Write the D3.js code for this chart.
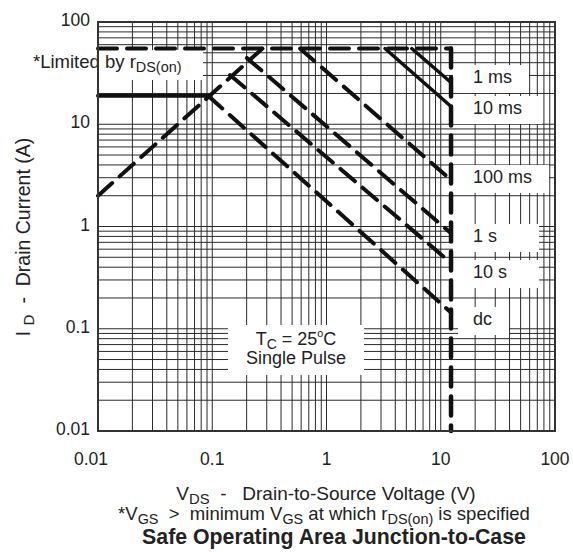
<!DOCTYPE html>
<html>
<head>
<meta charset="utf-8">
<script src="https://cdn.jsdelivr.net/npm/d3@7"></script>
<style>
  body { margin: 0; background: #fff; }
  svg { display: block; }
  text { font-family: "Liberation Sans", Arial, Helvetica, sans-serif; fill: #222; white-space: pre; }
</style>
</head>
<body>
<div id="chart"></div>
<script>
// ── data ──
const xTickValues = [0.01, 0.1, 1, 10, 100];
const xTickLabels = ['0.01', '0.1', '1', '10', '100'];
const yTickValues = [0.01, 0.1, 1, 10, 100];
const yTickLabels = ['0.01', '0.1', '1', '10', '100'];

const currentLimit = 55;     // A, top dashed limit
const packageLimit = 19;     // A, solid limit at low voltage
const voltageLimit = 12.3;   // V, vertical dashed limit
const rdsV = [0.01, 0.275];  // r_DS(on) limit line
const rdsI = [2.0, 55];

const pulseLabels = ['1 ms', '10 ms', '100 ms', '1 s', '10 s', 'dc'];
const pulseStartV = [5.57, 3.25, 0.586, 0.201, 0.143, 0.092];
const pulseStartI = [55, 55, 55, 44.5, 30.3, 19];
const pulseEndI   = [25.6, 14.9, 2.85, 0.86, 0.44, 0.144];
const labelI      = [25.3, 12.6, 2.66, 0.705, 0.313, 0.109];

// ── layout ──
const W = 573, H = 552;
const plot = { left: 98, right: 555, top: 22, bottom: 431 };
const DASH = '19,10';
const solidPulse = { '1 ms': true, '10 ms': true };
const boxPad = { '1 s': 42, '10 s': 32, '10 ms': 20 };

const svg = d3.select('#chart').append('svg')
  .attr('width', W).attr('height', H)
  .attr('viewBox', `0 0 ${W} ${H}`);

const x = d3.scaleLog([0.01, 100], [plot.left, plot.right]);
const y = d3.scaleLog([0.01, 100], [plot.bottom, plot.top]);

// rich text helper: parts = [[text, 'sub' | 'sup' | null], ...]
function rich(sel, parts, size) {
  let shift = 0;
  parts.forEach(([t, k]) => {
    const target = k === 'sub' ? 4 : k === 'sup' ? -8 : 0;
    const ts = sel.append('tspan').text(t).attr('dy', target - shift);
    if (k) ts.attr('font-size', k === 'sup' ? size * 0.6 : size * 0.78);
    shift = target;
  });
  return sel;
}

// ── grid ──
const grid = svg.append('g').attr('stroke', '#2a2a2a').attr('stroke-width', 1);
grid.selectAll('line.v').data(x.ticks()).join('line')
  .attr('x1', d => x(d)).attr('x2', d => x(d))
  .attr('y1', plot.top).attr('y2', plot.bottom);
grid.selectAll('line.h').data(y.ticks()).join('line')
  .attr('x1', plot.left).attr('x2', plot.right)
  .attr('y1', d => y(d)).attr('y2', d => y(d));

// ── white label boxes (drawn over the grid) ──
const boxes = svg.append('g').attr('fill', '#fff');
const labels = svg.append('g').attr('font-size', 18);

pulseLabels.forEach((lab, i) => {
  const t = labels.append('text')
    .attr('x', 473).attr('y', y(labelI[i]))
    .text(lab);
  const bb = t.node().getBBox();
  const by = y(labelI[i]);
  const left = lab === 'dc' ? 458 : 453;
  boxes.append('rect')
    .attr('x', left).attr('y', by - 18)
    .attr('width', bb.x + bb.width + (boxPad[lab] || 17) - left)
    .attr('height', 28);
});

// *Limited by r_DS(on)
boxes.append('rect').attr('x', 28).attr('y', 50).attr('width', 175).attr('height', 30);
rich(labels.append('text').attr('x', 33).attr('y', 68).attr('font-size', 18.5),
  [['*Limited by r', null], ['DS(on)', 'sub']], 18.5);

// T_C = 25 C / Single Pulse
boxes.append('rect').attr('x', 228).attr('y', 325).attr('width', 136).attr('height', 50);
rich(labels.append('text').attr('x', 296).attr('y', 345).attr('text-anchor', 'middle'),
  [['T', null], ['C', 'sub'], [' = 25', null], ['o', 'sup'], ['C', null]], 18);
labels.append('text').attr('x', 296).attr('y', 364).attr('text-anchor', 'middle').text('Single Pulse');

// ── limit curves ──
const curves = svg.append('g')
  .attr('fill', 'none').attr('stroke', '#111')
  .attr('stroke-width', 4).attr('stroke-linecap', 'round');
const line = d3.line().x(d => x(d[0])).y(d => y(d[1]));

// package (continuous) limit, solid
curves.append('path')
  .attr('d', line([[0.01, packageLimit], [pulseStartV[5], packageLimit]]));
// r_DS(on) limit
curves.append('path').attr('stroke-dasharray', DASH)
  .attr('d', line(rdsV.map((v, i) => [v, rdsI[i]])));
// current limit
curves.append('path').attr('stroke-dasharray', DASH)
  .attr('d', line([[0.01, currentLimit], [voltageLimit, currentLimit]]));
// voltage limit
curves.append('path').attr('stroke-dasharray', DASH).attr('stroke-width', 4.5)
  .attr('d', line([[voltageLimit, currentLimit], [voltageLimit, 0.01]]));

pulseLabels.forEach((lab, i) => {
  curves.append('path')
    .attr('stroke-width', solidPulse[lab] ? 3.5 : 4)
    .attr('stroke-dasharray', solidPulse[lab] ? null : DASH)
    .attr('d', line([[pulseStartV[i], pulseStartI[i]], [voltageLimit, pulseEndI[i]]]));
});

// ── frame ──
svg.append('rect')
  .attr('x', plot.left).attr('y', plot.top)
  .attr('width', plot.right - plot.left).attr('height', plot.bottom - plot.top)
  .attr('fill', 'none').attr('stroke', '#333').attr('stroke-width', 2);

// ── tick labels ──
svg.append('g').attr('font-size', 17.5).attr('text-anchor', 'end')
  .selectAll('text').data(yTickValues).join('text')
  .attr('x', 90).attr('y', d => y(d) + 4)
  .text((d, i) => yTickLabels[i]);

svg.append('g').attr('font-size', 17.5).attr('text-anchor', 'middle')
  .selectAll('text').data(xTickValues).join('text')
  .attr('x', d => x(d)).attr('dx', (d, i) => i === 0 ? -7 : 0)
  .attr('y', 465)
  .text((d, i) => xTickLabels[i]);

// ── axis titles ──
rich(svg.append('text').attr('font-size', 19.5).attr('text-anchor', 'middle')
  .attr('transform', 'translate(30,237) rotate(-90)'),
  [['I ', null], ['D', 'sub'], ['  -  Drain Current (A)', null]], 19.5);

rich(svg.append('text').attr('font-size', 19).attr('text-anchor', 'middle')
  .attr('x', 326).attr('y', 500),
  [['V', null], ['DS', 'sub'], ['  -   Drain-to-Source Voltage (V)', null]], 19);

rich(svg.append('text').attr('font-size', 18.5).attr('text-anchor', 'middle')
  .attr('x', 324).attr('y', 520),
  [['*V', null], ['GS', 'sub'], ['  >  minimum V', null], ['GS', 'sub'],
   [' at which r', null], ['DS(on)', 'sub'], [' is specified', null]], 18.5);

svg.append('text').attr('font-size', 21.3).attr('font-weight', 'bold')
  .attr('text-anchor', 'middle').attr('x', 334).attr('y', 544)
  .text('Safe Operating Area Junction-to-Case');
</script>
</body>
</html>
